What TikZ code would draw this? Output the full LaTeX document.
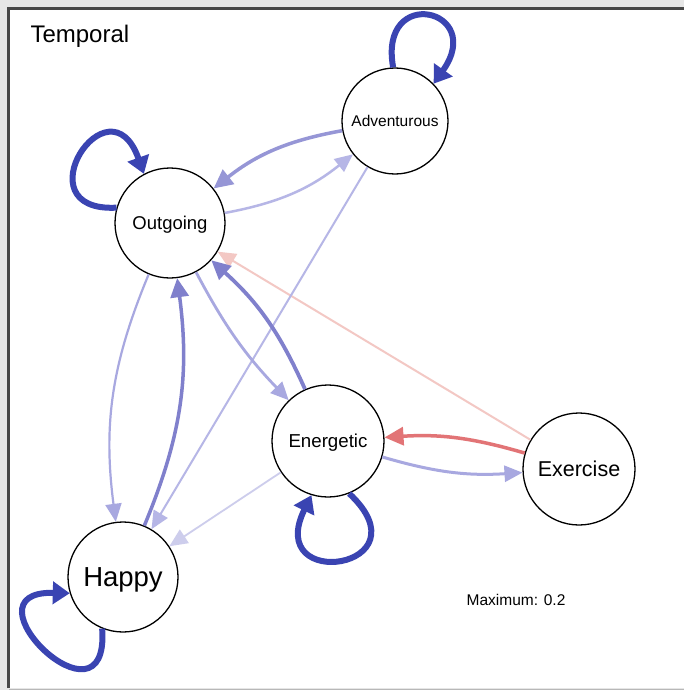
\documentclass[tikz,border=0pt]{standalone}
\usepackage{fontspec}
\setmainfont{Liberation Sans}
\usetikzlibrary{arrows.meta}

\definecolor{loopblue}{RGB}{58,68,178}
\definecolor{bluestrong}{RGB}{128,128,204}
\definecolor{bluemid}{RGB}{150,150,214}
\definecolor{bluelight}{RGB}{168,168,224}
\definecolor{bluepale}{RGB}{182,182,230}
\definecolor{bluefaint}{RGB}{205,205,236}
\definecolor{redmid}{RGB}{226,116,118}
\definecolor{redpale}{RGB}{243,200,196}
\definecolor{framegray}{RGB}{230,230,230}

\tikzset{
  var/.style={circle, draw=black, line width=1.3pt, fill=white,
    inner sep=0pt, text depth=0pt},
  edgeline/.style={-{Triangle[length=18pt,width=16pt]}},
  edgethick/.style={-{Triangle[length=19pt,width=18pt]}},
  selfloop/.style={line width=6pt, color=loopblue,
    -{Triangle[length=17pt,width=22pt]}},
}

\begin{document}
\begin{tikzpicture}[x=1pt,y=1pt]
\useasboundingbox (0,0) rectangle (684,-690);

% panel frame
\fill[framegray] (0,0) rectangle (684,-690);
\fill[white] (9,-9) rectangle (684,-688);
\draw[line width=2.5pt, black!72] (8.5,-688) -- (8.5,-8.5) -- (684,-8.5);
\draw[line width=1pt, black!28] (9,-689.2) -- (684,-689.2);

\node[anchor=base west, font=\fontsize{24}{28}\selectfont] (title) at (27,-43) {Temporal};

% variables
\node[var, minimum size=106pt, font=\fontsize{15.5}{18}\selectfont] (adv) at (395,-121) {Adventurous};
\node[var, minimum size=110pt, font=\fontsize{18.5}{22}\selectfont] (out) at (170,-223) {Outgoing};
\node[var, minimum size=112pt, font=\fontsize{18.7}{22}\selectfont] (ene) at (328,-441) {Energetic};
\node[var, minimum size=112pt, font=\fontsize{21.5}{25}\selectfont] (exe) at (579,-469) {Exercise};
\node[var, minimum size=110pt, font=\fontsize{27.5}{32}\selectfont] (hap) at (123,-577) {Happy};

% straight edges
\draw[edgeline, redpale, line width=2pt] (exe) -- (out);
\draw[edgeline, bluepale, line width=2pt] (adv) -- (hap);
\draw[edgeline, bluefaint, line width=1.8pt] (ene) -- (hap);

% curved pairs
\draw[edgethick, bluemid, line width=3.5pt] (adv) to[bend right=14] (out);
\draw[edgeline, bluepale, line width=2.5pt] (out) to[bend right=14] (adv);
\draw[edgeline, bluelight, line width=2.2pt] (out) to[bend right=15] (hap);
\draw[edgethick, bluestrong, line width=3.5pt] (hap) to[bend right=15] (out);
\draw[edgeline, bluelight, line width=2.8pt] (out) to[bend right=8] (ene);
\draw[edgethick, bluestrong, line width=3.8pt] (ene) to[bend right=12] (out);
\draw[edgethick, redmid, line width=3.5pt] (exe) to[bend right=10] (ene);
\draw[edgeline, bluelight, line width=3pt] (ene) to[bend right=10] (exe);

% self loops
\draw[selfloop] (adv.92) .. controls +(-15,83) and +(53,75) .. (adv.44);
\draw[selfloop] (out.164) .. controls +(-97,-5) and +(-35,99) .. (out.118);
\draw[selfloop] (ene.-68) .. controls +(80,-75) and +(-48,-98) .. (ene.-107);
\draw[selfloop] (hap.-112) .. controls +(8,-110) and +(-112,3) .. (hap.197);

\node[font=\fontsize{15.5}{18}\selectfont] (maxlabel) at (516,-600) {Maximum: 0.2};
\end{tikzpicture}
\end{document}
